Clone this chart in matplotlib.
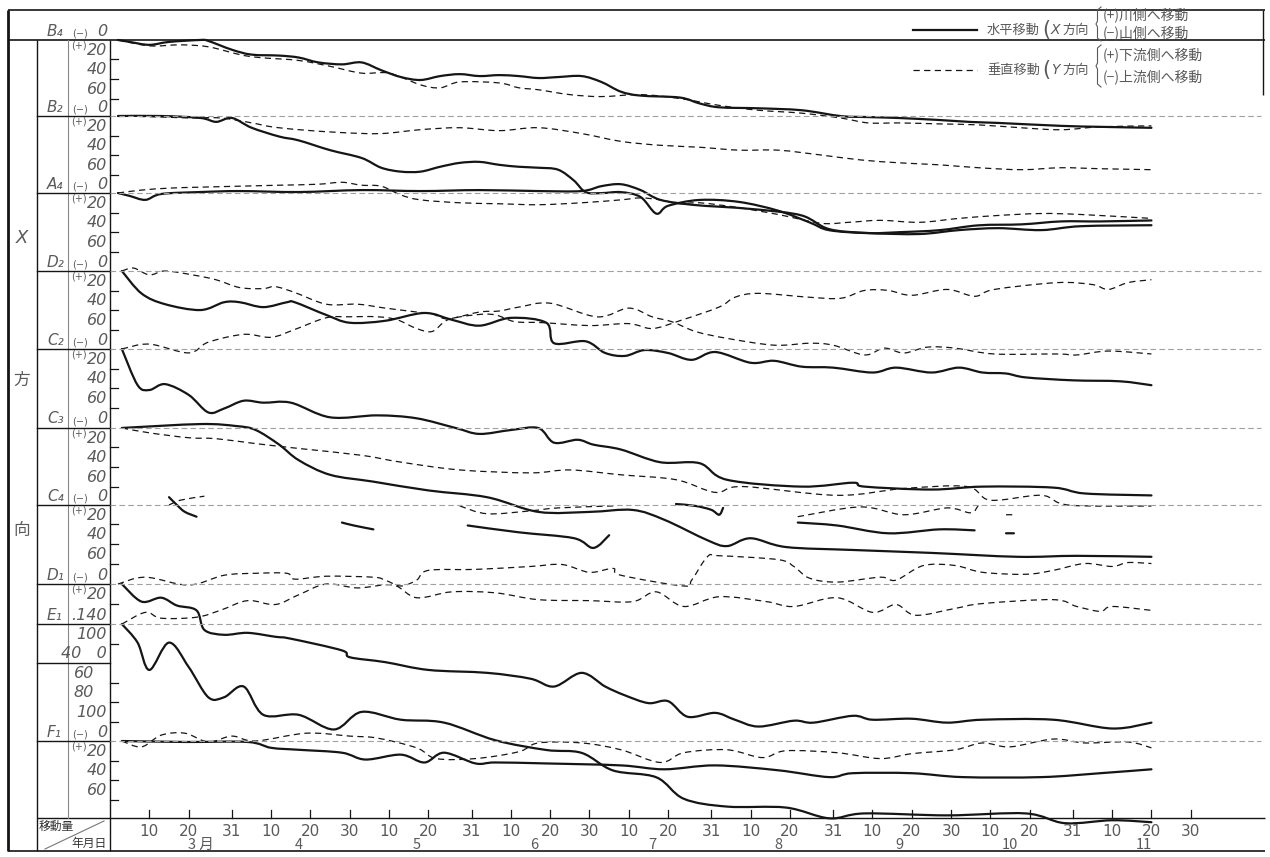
import numpy as np
import matplotlib.pyplot as plt
import matplotlib.transforms as mtransforms
from matplotlib.path import Path
from matplotlib.patches import PathPatch

plt.rcParams['font.family'] = ['Noto Sans CJK JP', 'DejaVu Sans']

# days counted from 1 March, displacement in mm (+ = downward on the sheet)
b4_s_day = [1,4,9,14,22,24,30,35,42,47,52,58,63,68,73,78,83,88,93,98,103,108,113,119,124,129,134,144,149,154,164,175,185,192,200,210,218,225,241,251,264]
b4_s_mm = [0,2,5,2,0,1,10,15,16,18,23,25,23,31,38,41,37,35,37,36,37,39,38,37,43,53,57,59,65,69,70,72,78,79,80,82,84,85,88,89,90]
b4_d_day = [1,9,17,24,32,37,47,55,63,70,78,83,88,98,103,108,116,124,134,144,154,164,175,185,192,200,210,220,231,241,251,264]
b4_d_mm = [0,6,5,7,15,18,21,27,34,34,46,49,43,44,49,51,56,58,56,60,67,72,75,80,85,85,86,87,90,92,89,88]

b2_s_day = [1,12,22,26,30,35,42,47,55,63,68,73,78,83,88,93,98,103,108,113,117,120,124,129,134,138,141,149,159,169,177,182,192,200,210,220,231,241,251,264]
b2_s_mm = [0,0,2,6,2,12,21,25,35,43,53,57,57,52,48,47,50,52,53,55,66,78,79,78,83,100,92,86,88,97,109,117,120,119,117,112,111,108,108,107]
b2_d_day = [1,12,19,27,35,40,47,58,68,78,88,98,108,119,129,139,149,159,169,180,190,200,210,220,231,241,251,264]
b2_d_mm = [0,1,2,2,7,11,14,17,18,14,12,15,12,18,26,30,32,35,35,40,45,48,50,53,55,53,54,55]

a4_s_day = [1,4,8,12,22,32,47,63,78,93,108,119,124,129,134,139,147,154,164,175,182,192,205,215,225,236,246,264]
a4_s_mm = [0,3,7,1,-1,-2,-1,-3,-2,-3,-2,-2,-7,-9,-3,7,12,14,17,23,37,41,42,38,36,38,34,33]
a4_d_day = [1,7,14,22,32,42,52,58,63,68,73,78,88,98,108,119,129,134,139,144,149,159,169,180,187,195,205,215,225,236,246,264]
a4_d_mm = [0,-3,-5,-6,-7,-8,-9,-11,-8,-7,2,7,10,11,12,10,7,5,7,11,10,15,22,31,30,28,30,26,23,21,22,26]

d2_s_day = [2,7,13,22,28,32,38,44,46,54,60,69,79,86,93,101,110,112,120,125,130,135,141,147,153,162,168,175,183,193,199,208,215,221,227,232,244,256,264]
d2_s_mm = [0,23,34,40,32,32,37,32,32,45,53,51,43,50,56,48,53,74,72,84,87,81,84,91,83,94,92,98,99,104,99,104,99,104,105,109,112,113,117]
d2_d_day = [2,5,9,13,20,26,32,38,41,46,54,62,69,77,81,85,93,98,103,111,123,131,137,142,148,156,168,177,183,191,196,201,207,214,224,240,245,253,264]
d2_d_mm = [0,-3,4,0,4,9,17,18,16,22,34,34,38,42,44,49,42,41,37,33,47,38,47,52,62,69,76,74,76,86,79,84,78,79,85,85,86,82,85]

c2_s_day = [2,6,9,13,19,24,28,33,38,45,55,67,77,87,93,101,108,112,118,122,129,139,149,156,175,188,191,208,221,239,247,264]
c2_s_mm = [0,37,42,36,47,65,61,53,55,55,70,68,71,81,87,83,81,96,93,98,103,116,117,134,141,137,141,144,141,142,148,150]
c2_d_day = [2,9,19,24,33,40,46,54,60,67,72,77,81,85,92,97,102,109,121,131,137,144,154,158,164,177,185,191,197,203,212,219,224,240,249,253,258,264]
c2_d_mm = [0,-5,4,-7,-15,-12,-20,-32,-33,-33,-30,-21,-18,-30,-35,-35,-28,-27,-24,-26,-21,-29,-43,-53,-57,-53,-52,-60,-60,-55,-61,-54,-61,-68,-66,-61,-68,-71]

c3_s_day = [2,22,31,36,42,47,55,66,80,95,108,121,132,140,151,156,162,171,188,208,230,245,264]
c3_s_mm = [0,-4,-2,2,17,33,48,55,64,71,86,86,84,94,115,121,113,122,125,128,132,131,132]
c3_d_day = [2,9,19,26,36,47,63,73,88,106,116,129,143,153,160,184,201,217,223,236,243,264]
c3_d_mm = [0,5,10,11,16,21,28,35,43,46,43,48,53,66,60,69,62,60,74,69,79,80]

nan = np.nan
c4_s_day = [14,16,18,21,nan,58,61,66,nan,90,103,117,122,126,nan,143,148,152,154,155,nan,174,184,197,210,219,nan,227,229]
c4_s_mm = [-8,0,7,12,nan,18,21,25,nan,21,28,34,44,31,nan,-1,1,5,10,3,nan,18,21,29,25,26,nan,29,29]
c4_d_day = [14,17,23,nan,88,95,106,113,127,nan,174,190,201,212,218,220,nan,227,229]
c4_d_mm = [0,-5,-9,nan,1,9,6,3,1,nan,12,2,10,3,8,0,nan,10,10]

d1_s_day = [2,7,12,16,21,23,28,34,41,45,58,60,69,80,95,106,112,119,125,130,136,141,146,153,158,164,173,178,188,193,203,212,221,239,254,264]
d1_s_mm = [0,18,14,22,27,47,52,50,54,56,68,75,80,88,91,97,105,91,105,114,122,120,136,132,139,146,140,142,135,139,138,142,139,139,148,142]
d1_d_day = [1,8,19,28,36,44,46,54,66,69,73,77,80,92,106,114,121,127,129,145,147,151,154,169,173,177,184,195,199,206,214,221,232,239,247,254,258,264]
d1_d_mm = [0,-7,1,-9,-11,-11,-5,-8,-7,-4,2,-4,-14,-15,-18,-20,-12,-16,-9,2,-4,-28,-29,-25,-18,-6,-2,-7,-4,-19,-19,-12,-10,-14,-21,-18,-22,-21]

e1_s_day = [2,6,9,14,19,24,28,33,38,47,56,63,73,84,97,110,119,127,138,145,156,171,182,191,212,232,242,254,264]
e1_s_mm = [0,19,47,19,44,75,75,64,93,93,108,90,98,101,119,129,132,150,157,179,187,188,199,194,196,194,204,201,203]
e1_d_day = [2,8,12,21,27,34,41,47,54,62,71,77,86,97,108,121,132,138,145,154,166,173,184,193,199,204,214,221,239,245,251,254,264]
e1_d_mm = [0,-12,-6,-7,-14,-24,-20,-30,-41,-37,-40,-27,-33,-32,-25,-24,-23,-33,-18,-28,-23,-18,-27,-12,-20,-9,-16,-21,-25,-18,-13,-18,-14]

f1_s_day = [2,18,34,40,47,58,64,73,79,84,92,97,110,129,140,153,169,182,188,203,216,236,251,264]
f1_s_mm = [0,1,1,7,9,12,19,14,22,12,23,22,23,25,29,25,30,37,33,33,37,37,33,29]
f1_d_day = [2,7,12,18,24,30,36,49,60,67,77,82,92,103,108,119,129,139,145,156,165,171,184,195,203,214,221,228,239,247,258,264]
f1_d_mm = [0,6,-6,-8,1,-5,0,-8,-5,-3,7,18,18,11,2,2,9,22,12,9,17,10,12,18,13,9,2,6,-2,2,1,7]

tick_days = [9,19,30,40,50,60,70,80,91,101,111,121,131,141,152,162,172,183,193,203,213,223,233,244,254,264,274]
tick_labels = ['10','20','31','10','20','30','10','20','31','10','20','30','10','20','31',
               '10','20','31','10','20','30','10','20','31','10','20','30']
month_labels = ['3 月','4','5','6','7','8','9','10','11']
month_days = [22,47,77,107,137,169,200,228,262]

# sheet layout: zero line of each station (mm from top line)
stations = [
    ('B4', 0.0, b4_s_day, b4_s_mm, b4_d_day, b4_d_mm),
    ('B2', 77.9, b2_s_day, b2_s_mm, b2_d_day, b2_d_mm),
    ('A4', 156.8, a4_s_day, a4_s_mm, a4_d_day, a4_d_mm),
    ('D2', 236.7, d2_s_day, d2_s_mm, d2_d_day, d2_d_mm),
    ('C2', 316.6, c2_s_day, c2_s_mm, c2_d_day, c2_d_mm),
    ('C3', 397.5, c3_s_day, c3_s_mm, c3_d_day, c3_d_mm),
    ('C4', 476.4, c4_s_day, c4_s_mm, c4_d_day, c4_d_mm),
    ('D1', 557.4, d1_s_day, d1_s_mm, d1_d_day, d1_d_mm),
    ('E1', 598.4, e1_s_day, e1_s_mm, e1_d_day, e1_d_mm),
    ('F1', 718.2, f1_s_day, f1_s_mm, f1_d_day, f1_d_mm),
]
extra_line = 638.3

fig = plt.figure(figsize=(12.7, 8.57), dpi=100)
fr = fig.add_axes([0, 0, 1, 1])
fr.set_xlim(0, 1270)
fr.set_ylim(857, 0)
fr.axis('off')

ax = fig.add_axes([110/1270, 6/857, 1155/1270, 841/857])
ax.set_xlim(-1.02, 292.9)
ax.set_ylim(830.9, -30.7)
ax.axis('off')

frx_axy = mtransforms.blended_transform_factory(fr.transData, ax.transData)
axx_fry = mtransforms.blended_transform_factory(ax.transData, fr.transData)

ink = '#151515'
txt = '#5a5a5a'


def smooth_line(x, y, **kw):
    # hand-drawn look: Catmull-Rom style bezier through the read points
    x = np.asarray(x, float)
    y = np.asarray(y, float)
    ok = np.where(~np.isnan(x))[0]
    runs = np.split(ok, np.where(np.diff(ok) != 1)[0] + 1)
    for r in runs:
        if len(r) < 2:
            continue
        p = np.column_stack([x[r], y[r]])
        verts = [p[0]]
        codes = [Path.MOVETO]
        n = len(p)
        for i in range(n - 1):
            p0 = p[i - 1] if i > 0 else p[i]
            p3 = p[i + 2] if i + 2 < n else p[i + 1]
            c1 = p[i] + (p[i + 1] - p0) / 6
            c2 = p[i + 1] - (p3 - p[i]) / 6
            verts += [c1, c2, p[i + 1]]
            codes += [Path.CURVE4] * 3
        ax.add_patch(PathPatch(Path(verts, codes), fill=False, clip_on=False, **kw))


# frame
for (x0, y0, x1, y1, lw) in [(8, 10, 1265, 10, 1.2), (8, 10, 8, 851, 2.0), (8, 851, 1265, 851, 1.2),
                             (1263, 10, 1263, 95, 1.0), (8, 40, 1265, 40, 1.2), (37, 40, 37, 851, 1.0),
                             (110, 40, 110, 851, 1.0), (37, 818, 1265, 818, 1.0)]:
    fr.plot([x0, x1], [y0, y1], color=ink, lw=lw, solid_capstyle='butt')
fr.plot([68, 68], [40, 818], color='#888888', lw=0.8)

# zero lines
for name, base, *_ in stations[1:]:
    fr.plot([37, 110], [base, base], color=ink, lw=1.0, transform=frx_axy)
    ax.plot([-1, 292], [base, base], color='#a0a0a0', lw=0.8, ls=(0, (5, 3)))
fr.plot([37, 110], [extra_line, extra_line], color=ink, lw=1.0, transform=frx_axy)

# curves
for name, base, sd, sm, dd, dm in stations:
    smooth_line(sd, base + np.array(sm, dtype=float), edgecolor=ink, lw=1.6,
                joinstyle='round', capstyle='round')
    smooth_line(dd, base + np.array(dm, dtype=float), edgecolor=ink, lw=0.9,
                linestyle=(0, (5, 3.5)))

# left scale labels
num_kw = dict(fontsize=11.5, style='italic', color=txt, ha='right', va='bottom',
              transform=frx_axy, family=['DejaVu Sans'])
small_kw = dict(fontsize=7, color=txt, ha='left', va='bottom', transform=frx_axy,
                family=['DejaVu Sans'])
name_kw = dict(fontsize=11, style='italic', color=txt, ha='left', va='bottom',
               transform=frx_axy, family=['DejaVu Sans'])


def tick(y):
    fr.plot([110, 118], [y, y], color=ink, lw=0.9, transform=frx_axy)


names = ['B₄', 'B₂', 'A₄', 'D₂', 'C₂', 'C₃', 'C₄', 'D₁']
for i, nm in enumerate(names):
    base = stations[i][1]
    fr.text(47, base - 1.5, nm, **name_kw)
    fr.text(72, base - 1.5, '(−)', **small_kw)
    fr.text(107, base - 1.5, '0', **num_kw)
for i in range(7):
    base = stations[i][1]
    for v in (20, 40, 60):
        tick(base + v)
        fr.text(107, base + v - 2, str(v), **num_kw)
    fr.text(71, base + 20 - 9, '(+)', **small_kw)

d1 = stations[7][1]
tick(d1 + 20)
fr.text(107, d1 + 18, '20', **num_kw)
fr.text(71, d1 + 11, '(+)', **small_kw)
e1 = stations[8][1]
fr.text(47, e1 - 1.5, 'E₁', **name_kw)
fr.text(107, e1 - 1.5, '.140', **num_kw)
tick(e1 + 20)
fr.text(107, e1 + 18, '100', **num_kw)
fr.text(107, e1 + 38, '40   0', **num_kw)
for v in (60, 80, 100):
    tick(e1 + v)
    fr.text(107 if v == 100 else 94, e1 + v - 2, str(v), **num_kw)
f1 = stations[9][1]
fr.text(47, f1 - 1.5, 'F₁', **name_kw)
fr.text(72, f1 - 1.5, '(−)', **small_kw)
fr.text(107, f1 - 1.5, '0', **num_kw)
for v in (20, 40, 60):
    tick(f1 + v)
    fr.text(107, f1 + v - 2, str(v), **num_kw)
fr.text(71, f1 + 11, '(+)', **small_kw)

# big side title
fr.text(22, 238, 'X', fontsize=13, style='italic', color=txt, ha='center', va='center',
        family=['DejaVu Sans'])
fr.text(22, 380, '方', fontsize=12, color=txt, ha='center', va='center')
fr.text(22, 530, '向', fontsize=12, color=txt, ha='center', va='center')

# date axis
for d, lab in zip(tick_days, tick_labels):
    ax.plot([d, d], [797.1, 789.0], color=ink, lw=0.9)
    ax.text(d, 831, lab, transform=axx_fry, fontsize=11, color=txt, ha='center', va='center',
            family=['DejaVu Sans'])
for d, lab in zip(month_days, month_labels):
    ax.text(d, 845, lab, transform=axx_fry, fontsize=10.5, color=txt, ha='center', va='center')
fr.text(39, 826, '移動量', fontsize=8.5, color='#333333', ha='left', va='center')
fr.text(107, 843, '年月日', fontsize=8.5, color='#333333', ha='right', va='center')
fr.plot([45, 104], [849, 821], color='#777777', lw=0.8)

# legend
fr.plot([913, 977], [30, 30], color=ink, lw=1.6)
fr.plot([913, 977], [70, 70], color=ink, lw=0.9, ls=(0, (5, 3.5)))
leg_kw = dict(fontsize=9.5, color=txt, va='center', ha='left')
fr.text(987, 30, '水平移動', **leg_kw)
fr.text(987, 70, '垂直移動', **leg_kw)
fr.text(1042, 30, '(', fontsize=15, color=txt, va='center', ha='left', family=['DejaVu Sans'])
fr.text(1042, 70, '(', fontsize=15, color=txt, va='center', ha='left', family=['DejaVu Sans'])
fr.text(1051, 30, 'X', fontsize=10, style='italic', color=txt, va='center', ha='left', family=['DejaVu Sans'])
fr.text(1062, 30, '方向', **leg_kw)
fr.text(1051, 70, 'Y', fontsize=10, style='italic', color=txt, va='center', ha='left', family=['DejaVu Sans'])
fr.text(1062, 70, '方向', **leg_kw)


def brace(x, y0, y1, w=5):
    ym = (y0 + y1) / 2
    xs = [x + w, x + 1.5, x + 1.5, x, x + 1.5, x + 1.5, x + w]
    ys = [y0, y0 + 3, ym - 3, ym, ym + 3, y1 - 3, y1]
    fr.plot(xs, ys, color=txt, lw=0.8)


brace(1096, 7, 41)
brace(1096, 45, 87)
br_kw = dict(fontsize=10, color=txt, va='center', ha='left')
fr.text(1103, 15, '(+)川側へ移動', **br_kw)
fr.text(1103, 33, '(−)山側へ移動', **br_kw)
fr.text(1103, 55, '(+)下流側へ移動', **br_kw)
fr.text(1103, 77, '(−)上流側へ移動', **br_kw)

fig.savefig('out.png', dpi=100, facecolor='white')
